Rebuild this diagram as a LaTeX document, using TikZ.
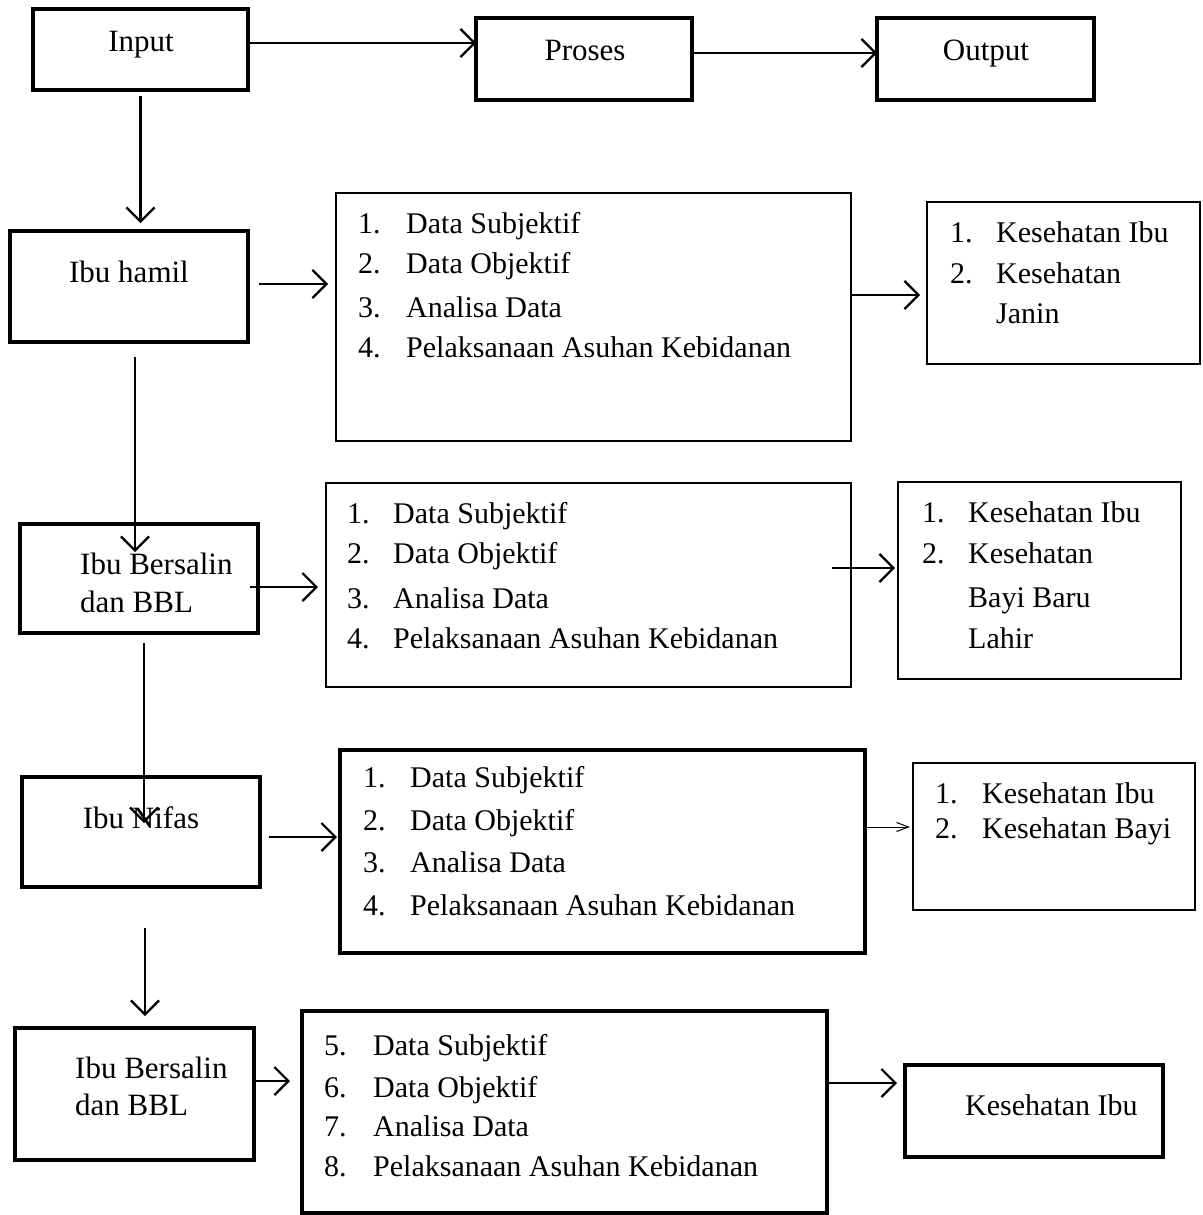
\documentclass[tikz,border=0pt]{standalone}
\usepackage{fontspec}
\setmainfont{Liberation Serif}
\usetikzlibrary{arrows.meta}

\tikzset{
  bold box/.style={draw, line width=4.5pt, inner sep=0pt, outer sep=0pt},
  thin box/.style={draw, line width=1.8pt, inner sep=0pt, outer sep=0pt},
  lbl/.style={inner sep=0pt, anchor=base, font=\fontsize{31}{36}\selectfont},
  item/.style={inner sep=0pt, anchor=base west, font=\fontsize{30}{36}\selectfont},
  arr/.style={line width=2.2pt, -{Straight Barb[length=14pt, width=28pt]}},
  slim arr/.style={line width=1pt, -{Straight Barb[length=12pt, width=9pt]}}
}

\begin{document}
\begin{tikzpicture}[x=1pt, y=-1pt]
    \useasboundingbox (0,0) rectangle (1202,1215);

    % top row
    \node[bold box, minimum width=215pt, minimum height=81pt] (input) at (140.5,49.5) {};
    \node[bold box, minimum width=216pt, minimum height=82pt] (proses) at (584,59) {};
    \node[bold box, minimum width=217pt, minimum height=82pt] (output) at (985.5,59) {};
    \node[lbl] (input-t) at (141,52) {Input};
    \node[lbl] (proses-t) at (585,60) {Proses};
    \node[lbl] (output-t) at (986,60) {Output};

    % left column
    \node[bold box, minimum width=238pt, minimum height=111pt] (hamil) at (129,286.5) {};
    \node[bold box, minimum width=238pt, minimum height=109pt] (bersalin) at (139,578.5) {};
    \node[bold box, minimum width=238pt, minimum height=110pt] (nifas) at (141,832) {};
    \node[bold box, minimum width=239pt, minimum height=132pt] (bersalinb) at (134.5,1094) {};
    \node[lbl] (hamil-t) at (129,282) {Ibu hamil};
    \node[lbl, anchor=base west] (bersalin-t1) at (80,574) {Ibu Bersalin};
    \node[lbl, anchor=base west] (bersalin-t2) at (80,612) {dan BBL};
    \node[lbl] (nifas-t) at (141,828) {Ibu Nifas};
    \node[lbl, anchor=base west] (bersalinb-t1) at (75,1078) {Ibu Bersalin};
    \node[lbl, anchor=base west] (bersalinb-t2) at (75,1115) {dan BBL};

    % middle column
    \node[thin box, minimum width=515pt, minimum height=248pt] (proc1) at (593.5,317) {};
    \node[thin box, minimum width=525pt, minimum height=204pt] (proc2) at (588.5,585) {};
    \node[bold box, minimum width=525pt, minimum height=203pt] (proc3) at (602.5,851.5) {};
    \node[bold box, minimum width=525pt, minimum height=202pt] (proc4) at (564.5,1112) {};
    \foreach \n/\y/\t in {1/233/Data Subjektif, 2/273/Data Objektif, 3/317/Analisa Data, 4/357/Pelaksanaan Asuhan Kebidanan} {
        \node[item] (p1-\n) at (358,\y) {\n.};
        \node[item] (p1-t\n) at (406,\y) {\t};
    }
    \foreach \n/\y/\t in {1/523/Data Subjektif, 2/563/Data Objektif, 3/608/Analisa Data, 4/648/Pelaksanaan Asuhan Kebidanan} {
        \node[item] (p2-\n) at (347,\y) {\n.};
        \node[item] (p2-t\n) at (393,\y) {\t};
    }
    \foreach \n/\y/\t in {1/787/Data Subjektif, 2/830/Data Objektif, 3/872/Analisa Data, 4/915/Pelaksanaan Asuhan Kebidanan} {
        \node[item] (p3-\n) at (363,\y) {\n.};
        \node[item] (p3-t\n) at (410,\y) {\t};
    }
    \foreach \n/\y/\t in {5/1055/Data Subjektif, 6/1097/Data Objektif, 7/1136/Analisa Data, 8/1176/Pelaksanaan Asuhan Kebidanan} {
        \node[item] (p4-\n) at (324,\y) {\n.};
        \node[item] (p4-t\n) at (373,\y) {\t};
    }

    % right column
    \node[thin box, minimum width=273pt, minimum height=162pt] (out1) at (1063.5,283) {};
    \node[thin box, minimum width=283pt, minimum height=197pt] (out2) at (1039.5,580.5) {};
    \node[thin box, minimum width=282pt, minimum height=147pt] (out3) at (1054,836.5) {};
    \node[bold box, minimum width=258pt, minimum height=92pt] (out4) at (1034,1111) {};
    \foreach \n/\y/\t in {1/242/Kesehatan Ibu, 2/283/Kesehatan} {
        \node[item] (o1-\n) at (950,\y) {\n.};
        \node[item] (o1-t\n) at (996,\y) {\t};
    }
    \node[item] (o1-t3) at (996,323) {Janin};
    \foreach \n/\y/\t in {1/522/Kesehatan Ibu, 2/563/Kesehatan} {
        \node[item] (o2-\n) at (922,\y) {\n.};
        \node[item] (o2-t\n) at (968,\y) {\t};
    }
    \node[item] (o2-t3) at (968,607) {Bayi Baru};
    \node[item] (o2-t4) at (968,648) {Lahir};
    \foreach \n/\y/\t in {1/803/Kesehatan Ibu, 2/838/Kesehatan Bayi} {
        \node[item] (o3-\n) at (935,\y) {\n.};
        \node[item] (o3-t\n) at (982,\y) {\t};
    }
    \node[item] (o4-t) at (965,1115) {Kesehatan Ibu};

    % arrows
    \draw[arr] ([yshift=6.5pt]input.east) -- ([yshift=16pt]proses.west);
    \draw[arr] ([yshift=6pt]proses.east) -- ([yshift=6pt]output.west);
    \draw[arr] ([yshift=-6pt]input.south) -- ([xshift=11.5pt,yshift=8pt]hamil.north);
    \draw[arr] ([xshift=11pt,yshift=2.5pt]hamil.east) -- ([xshift=-8pt,yshift=33pt]proc1.west);
    \draw[arr] ([yshift=-12pt]proc1.east |- out1.west) -- ([xshift=-7pt,yshift=-12pt]out1.west);
    \draw[arr] ([xshift=6pt,yshift=-15pt]hamil.south) -- ([xshift=-4pt,yshift=-28pt]bersalin.north);
    \draw[arr] ([xshift=-8pt,yshift=-8.5pt]bersalin.east) -- ([xshift=-8pt,yshift=-2pt]proc2.west);
    \draw[arr] ([xshift=-19pt,yshift=17pt]proc2.east) -- ([xshift=-3pt,yshift=12.5pt]out2.west);
    \draw[arr] ([xshift=5pt,yshift=-10pt]bersalin.south) -- ([xshift=3pt,yshift=-46pt]nifas.north);
    \draw[arr] ([xshift=9pt,yshift=-5pt]nifas.east) -- ([xshift=-3pt,yshift=14.5pt]proc3.west);
    \draw[slim arr] ([xshift=2pt,yshift=24.5pt]proc3.east) -- ([xshift=-3pt,yshift=9.5pt]out3.west);
    \draw[arr] ([xshift=4pt,yshift=-41pt]nifas.south) -- ([xshift=10.5pt,yshift=12pt]bersalinb.north);
    \draw[arr] ([yshift=13pt]bersalinb.east) -- ([xshift=-12pt,yshift=31pt]proc4.west);
    \draw[arr] ([yshift=29pt]proc4.east) -- ([xshift=-8pt,yshift=28pt]out4.west);
\end{tikzpicture}
\end{document}
